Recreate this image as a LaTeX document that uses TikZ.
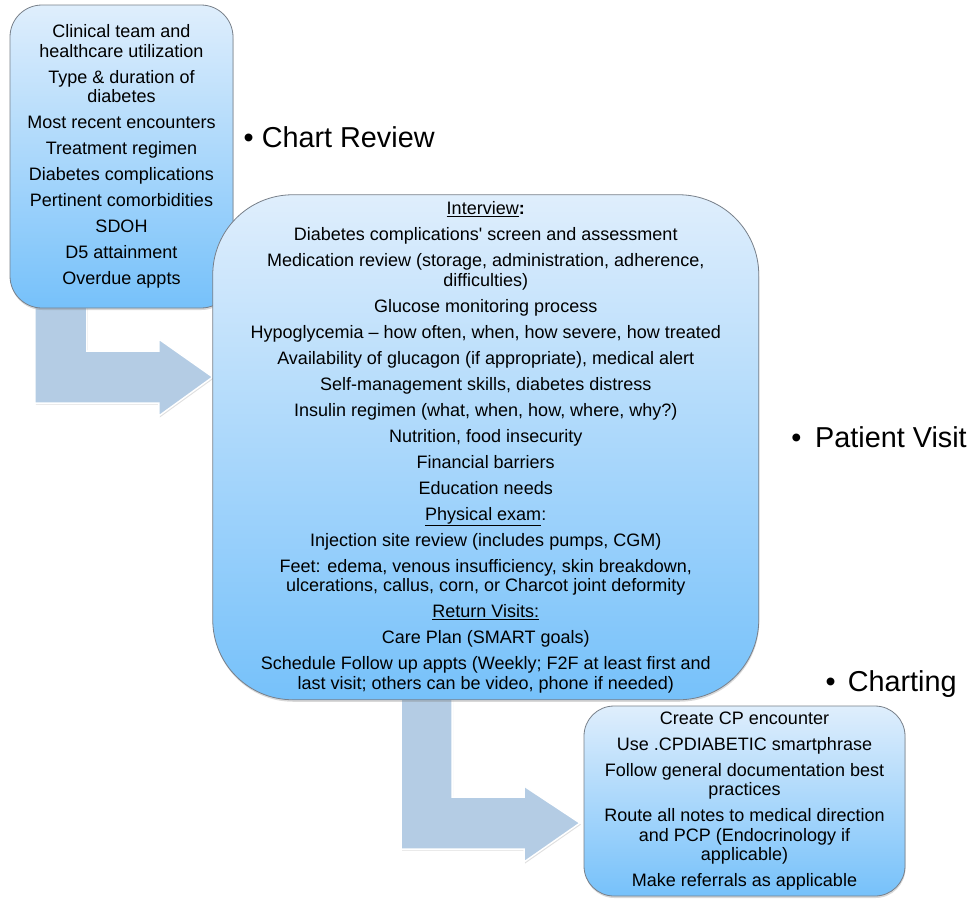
\documentclass[tikz,border=0pt]{standalone}
\usepackage{fontspec}
\newfontfamily\lsans{Liberation Sans}
\usetikzlibrary{shadows,calc}
\pgfdeclarelayer{background}
\pgfsetlayers{background,main}
\definecolor{boxtop}{RGB}{223,238,252}
\definecolor{boxbot}{RGB}{118,193,250}
\definecolor{boxline}{RGB}{120,128,138}
\definecolor{arrowfill}{RGB}{180,204,228}
\begin{document}
\begin{tikzpicture}[x=1pt,y=-1pt,
  boxstyle/.style={draw=boxline, line width=0.8pt, top color=boxtop, bottom color=boxbot,
    align=center, inner sep=0pt, outer sep=0pt,
    font=\lsans\fontsize{18}{19.5}\selectfont,
    drop shadow={opacity=0.3, shadow xshift=0.5pt, shadow yshift=-2pt}},
  blockarrow/.style={fill=arrowfill, draw=white, line width=1.5pt, line join=miter,
    drop shadow={opacity=0.25, shadow xshift=1pt, shadow yshift=-1.5pt}},
  bullettext/.style={anchor=base west, inner sep=0pt, font=\lsans\fontsize{28.8}{34}\selectfont}]
\useasboundingbox (0,0) rectangle (974,898);

\node[boxstyle, rounded corners=32pt, minimum width=223pt, minimum height=303pt] (b1) at (121.5,156.5)
 {Clinical team and\\ healthcare utilization\\[6.5pt]
  Type \& duration of\\ diabetes\\[6.5pt]
  Most recent encounters\\[6.5pt]
  Treatment regimen\\[6.5pt]
  Diabetes complications\\[6.5pt]
  Pertinent comorbidities\\[6.5pt]
  SDOH\\[6.5pt]
  D5 attainment\\[6.5pt]
  Overdue appts};

\node[boxstyle, rounded corners=80pt, minimum width=546pt, minimum height=505pt] (b2) at (485.75,447.25)
 {\underline{Interview}\textbf{:}\\[6.5pt]
  Diabetes complications' screen and assessment\\[6.5pt]
  Medication review (storage, administration, adherence,\\ difficulties)\\[6.5pt]
  Glucose monitoring process\\[6.5pt]
  Hypoglycemia – how often, when, how severe, how treated\\[6.5pt]
  Availability of glucagon (if appropriate), medical alert\\[6.5pt]
  Self-management skills, diabetes distress\\[6.5pt]
  Insulin regimen (what, when, how, where, why?)\\[6.5pt]
  Nutrition, food insecurity\\[6.5pt]
  Financial barriers\\[6.5pt]
  Education needs\\[6.5pt]
  \underline{Physical exam}:\\[6.5pt]
  Injection site review (includes pumps, CGM)\\[6.5pt]
  Feet: edema, venous insufficiency, skin breakdown,\\ ulcerations, callus, corn, or Charcot joint deformity\\[6.5pt]
  \underline{Return Visits:}\\[6.5pt]
  Care Plan (SMART goals)\\[6.5pt]
  Schedule Follow up appts (Weekly; F2F at least first and\\ last visit; others can be video, phone if needed)};

\node[boxstyle, rounded corners=30pt, minimum width=321pt, minimum height=190pt] (b3) at (744.5,801)
 {Create CP encounter\\[6.5pt]
  Use .CPDIABETIC smartphrase\\[6.5pt]
  Follow general documentation best\\ practices\\[6.5pt]
  Route all notes to medical direction\\ and PCP (Endocrinology if\\ applicable)\\[6.5pt]
  Make referrals as applicable};

\node[bullettext] (l1) at (243.5,147) {\textbullet\hspace{8pt}Chart Review};
\node[bullettext] (l2) at (791.2,447.3) {\textbullet\hspace{13.7pt}Patient Visit};
\node[bullettext] (l3) at (825.5,691.5) {\textbullet\hspace{12pt}Charting};

\coordinate (y1) at (0,377);
\coordinate (y2) at (0,823);
\begin{pgfonlayer}{background}
\fill[white] (0,0) rectangle (974,898);
\draw[blockarrow] (b2.west |- y1) -- ++(-54,-38) -- ++(0,12) -- ++(-72,0) -- ++(0,-61)
  -- ++(-52,0) -- ++(0,113) -- ++(124,0) -- ++(0,13) -- cycle;
\draw[blockarrow] ($(b3.west |- y2)+(-4,0)$) -- ++(-56,-37) -- ++(0,11) -- ++(-72,0) -- ++(0,-115)
  -- ++(-51,0) -- ++(0,167) -- ++(123,0) -- ++(0,13) -- cycle;
\end{pgfonlayer}
\end{tikzpicture}
\end{document}
